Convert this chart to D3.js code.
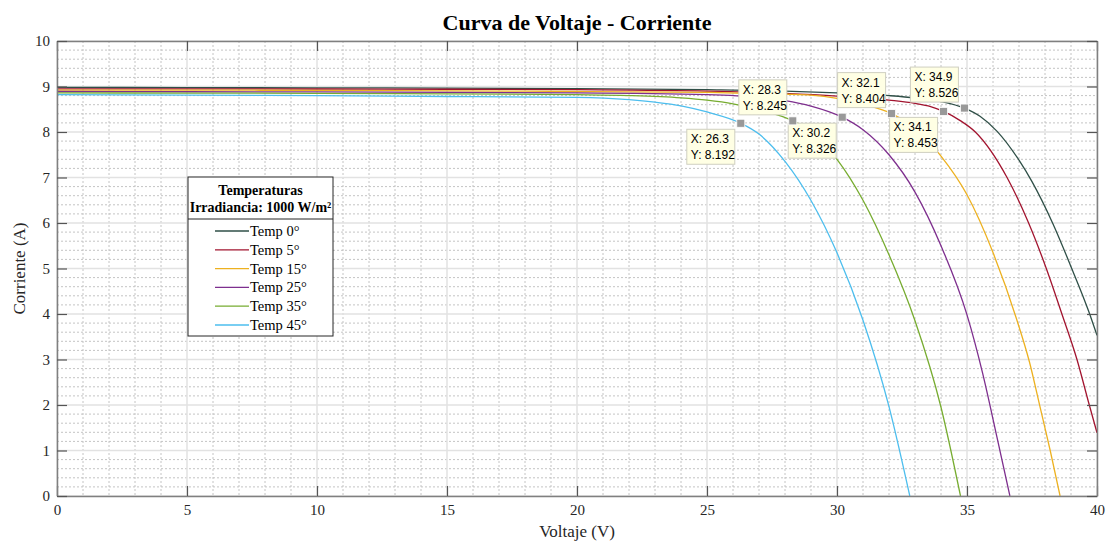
<!DOCTYPE html>
<html>
<head>
<meta charset="utf-8">
<script src="https://cdn.jsdelivr.net/npm/d3@7"></script>
<style>
  body { margin: 0; background: #fff; }
  svg { display: block; }
  .tick-label { font-family: "Liberation Serif", "Times New Roman", serif; font-size: 15px; fill: #262626; }
  .tip text { font-family: "Liberation Sans", Arial, sans-serif; font-size: 12px; fill: #000; }
</style>
</head>
<body>
<div id="chart"></div>
<script>
'use strict';

// series labels and colours (legend order)
const temps = ["Temp 0°", "Temp 5°", "Temp 15°", "Temp 25°", "Temp 35°", "Temp 45°"];
const colors = ["#2f4f47", "#a2142f", "#edb120", "#7e2f8e", "#77ac30", "#4dbeee"];

// I-V readings, voltage (V) / current (A)
const volts0 = [0, 5, 10, 15, 20, 25, 28, 30, 32, 33, 34, 34.9, 35.5, 36.15, 37, 37.5, 38.3, 39, 39.68, 40];
const amps0  = [8.98, 8.975, 8.97, 8.965, 8.955, 8.93, 8.90, 8.86, 8.80, 8.75, 8.67, 8.526, 8.346, 8.02, 7.38, 6.91, 5.99, 5.04, 4.06, 3.53];

const volts5 = [0, 5, 10, 15, 20, 25, 28, 30, 32, 33, 33.6, 34.1, 34.74, 35.32, 36.54, 37.37, 38.05, 38.65, 39.23, 39.68, 40];
const amps5  = [8.95, 8.95, 8.945, 8.94, 8.93, 8.90, 8.85, 8.79, 8.70, 8.63, 8.56, 8.453, 8.25, 8.0, 7.0, 6.0, 5.0, 4.0, 3.0, 2.05, 1.39];

const volts15 = [0, 5, 10, 15, 20, 25, 28, 29, 30, 31, 32.1, 33, 34, 35, 36, 36.9, 37.4, 37.8, 38.2, 38.58];
const amps15  = [8.92, 8.92, 8.915, 8.905, 8.89, 8.87, 8.83, 8.81, 8.74, 8.61, 8.404, 8.08, 7.47, 6.62, 5.35, 3.9, 2.95, 1.98, 1.0, 0];

const volts25 = [0, 5, 10, 15, 20, 25, 27, 28, 29, 30.2, 31, 32, 33, 34, 35, 35.6, 36.15, 36.65];
const amps25  = [8.89, 8.885, 8.88, 8.87, 8.86, 8.82, 8.76, 8.69, 8.57, 8.326, 8.05, 7.5, 6.68, 5.5, 3.98, 2.7, 1.3, 0];

const volts35 = [0, 5, 10, 15, 20, 22, 24, 25, 26, 27, 28.3, 29, 30, 31, 32, 33, 34, 34.75];
const amps35  = [8.86, 8.855, 8.85, 8.84, 8.82, 8.80, 8.75, 8.70, 8.62, 8.49, 8.245, 8.0, 7.4, 6.5, 5.3, 3.85, 1.95, 0];

const volts45 = [0, 5, 10, 15, 20, 22, 23, 24, 25, 26.3, 27, 28, 29, 30, 31, 32, 32.8];
const amps45  = [8.82, 8.81, 8.80, 8.78, 8.76, 8.71, 8.655, 8.575, 8.44, 8.192, 7.954, 7.354, 6.494, 5.344, 3.864, 1.964, 0];

// data tips (one per curve, same order as temps)
const tipX = [34.9, 34.1, 32.1, 30.2, 28.3, 26.3];
const tipY = [8.526, 8.453, 8.404, 8.326, 8.245, 8.192];

const xTicks = [0, 5, 10, 15, 20, 25, 30, 35, 40];
const yTicks = [0, 1, 2, 3, 4, 5, 6, 7, 8, 9, 10];

const voltSets = [volts0, volts5, volts15, volts25, volts35, volts45];
const ampSets = [amps0, amps5, amps15, amps25, amps35, amps45];
const series = temps.map(function(t, i) {
    return {
        name: t,
        color: colors[i],
        points: voltSets[i].map(function(v, j) { return {v: v, a: ampSets[i][j]}; })
    };
});

const W = 1107, H = 542;
const margin = {left: 57, right: 1097, top: 41, bottom: 496};

const x = d3.scaleLinear().domain([0, 40]).range([margin.left, margin.right]);
const y = d3.scaleLinear().domain([0, 10]).range([margin.bottom, margin.top]);

const svg = d3.select("#chart").append("svg")
    .attr("width", W)
    .attr("height", H);

// minor grid
const g = svg.append("g").attr("class", "grid");
g.selectAll(".xminor").data(d3.range(0, 41, 1).filter(function(d) { return d % 5 !== 0; }))
    .enter().append("line")
    .attr("x1", function(d) { return x(d); }).attr("x2", function(d) { return x(d); })
    .attr("y1", margin.top).attr("y2", margin.bottom)
    .attr("stroke", "#c4c4c4").attr("stroke-width", 1).attr("stroke-dasharray", "2,2");
g.selectAll(".yminor").data(d3.range(0, 50).map(function(d) { return d * 0.2; }).filter(function(d, i) { return i % 5 !== 0; }))
    .enter().append("line")
    .attr("x1", margin.left).attr("x2", margin.right)
    .attr("y1", function(d) { return y(d); }).attr("y2", function(d) { return y(d); })
    .attr("stroke", "#c4c4c4").attr("stroke-width", 1).attr("stroke-dasharray", "2,2");

// major grid
g.selectAll(".xmajor").data(xTicks).enter().append("line")
    .attr("x1", function(d) { return x(d); }).attr("x2", function(d) { return x(d); })
    .attr("y1", margin.top).attr("y2", margin.bottom)
    .attr("stroke", "#e2e2e2").attr("stroke-width", 1.5);
g.selectAll(".ymajor").data(yTicks).enter().append("line")
    .attr("x1", margin.left).attr("x2", margin.right)
    .attr("y1", function(d) { return y(d); }).attr("y2", function(d) { return y(d); })
    .attr("stroke", "#e2e2e2").attr("stroke-width", 1.5);

// curves
svg.append("clipPath").attr("id", "clip")
    .append("rect").attr("x", margin.left).attr("y", margin.top)
    .attr("width", margin.right - margin.left).attr("height", margin.bottom - margin.top);

const line = d3.line()
    .x(function(d) { return x(d.v); })
    .y(function(d) { return y(d.a); })
    .curve(d3.curveMonotoneX);

svg.append("g").attr("clip-path", "url(#clip)")
    .selectAll("path").data(series).enter().append("path")
    .attr("d", function(d) { return line(d.points); })
    .attr("fill", "none")
    .attr("stroke", function(d) { return d.color; })
    .attr("stroke-width", 1.3);

// axes (box with inward ticks)
const axisColor = "#808080";
const tickLen = 10;

const xAxis = svg.append("g").attr("transform", "translate(0," + margin.bottom + ")")
    .call(d3.axisBottom(x).tickValues(xTicks).tickSizeInner(-tickLen).tickSizeOuter(0).tickPadding(8));
const xAxisTop = svg.append("g").attr("transform", "translate(0," + margin.top + ")")
    .call(d3.axisTop(x).tickValues(xTicks).tickSizeInner(-tickLen).tickSizeOuter(0).tickFormat(""));
const yAxis = svg.append("g").attr("transform", "translate(" + margin.left + ",0)")
    .call(d3.axisLeft(y).tickValues(yTicks).tickSizeInner(-tickLen).tickSizeOuter(0).tickPadding(7));
const yAxisRight = svg.append("g").attr("transform", "translate(" + margin.right + ",0)")
    .call(d3.axisRight(y).tickValues(yTicks).tickSizeInner(-tickLen).tickSizeOuter(0).tickFormat(""));

[xAxis, xAxisTop, yAxis, yAxisRight].forEach(function(a) {
    a.attr("font-family", null).attr("font-size", null);
    a.select(".domain").attr("stroke", axisColor).attr("stroke-width", 1.5);
    a.selectAll(".tick line").attr("stroke", "#555").attr("stroke-width", 1.2);
    a.selectAll(".tick text").attr("class", "tick-label").attr("fill", null);
});

// title and axis labels
svg.append("text")
    .attr("x", (margin.left + margin.right) / 2).attr("y", 30)
    .attr("text-anchor", "middle")
    .style("font-family", "'Liberation Serif', 'Times New Roman', serif")
    .style("font-size", "22px").style("font-weight", "bold").style("fill", "#000")
    .text("Curva de Voltaje - Corriente");

svg.append("text")
    .attr("x", (margin.left + margin.right) / 2).attr("y", 537)
    .attr("text-anchor", "middle")
    .style("font-family", "'Liberation Serif', 'Times New Roman', serif")
    .style("font-size", "17px").style("fill", "#262626")
    .text("Voltaje (V)");

svg.append("text")
    .attr("transform", "translate(25," + ((margin.top + margin.bottom) / 2) + ") rotate(-90)")
    .attr("text-anchor", "middle")
    .style("font-family", "'Liberation Serif', 'Times New Roman', serif")
    .style("font-size", "17px").style("fill", "#262626")
    .text("Corriente (A)");

// data tips
const tipAbove = [true, false, true, false, true, false];
const tipW = 48, tipH = 35;
const tips = svg.append("g").selectAll("g").data(tipX).enter().append("g").attr("class", "tip");
tips.each(function(d, i) {
    const t = d3.select(this);
    const mx = x(tipX[i]), my = y(tipY[i]);
    const bx = mx - 6 - tipW;
    const by = tipAbove[i] ? my - 6 - tipH : my + 6;
    t.append("rect")
        .attr("x", bx).attr("y", by).attr("width", tipW).attr("height", tipH)
        .attr("fill", "#ffffe4").attr("stroke", "#cfcfc0").attr("stroke-width", 1);
    t.append("text").attr("x", bx + 4).attr("y", by + 14).text("X: " + tipX[i]);
    t.append("text").attr("x", bx + 4).attr("y", by + 30).text("Y: " + tipY[i]);
    t.append("rect")
        .attr("x", mx - 4).attr("y", my - 4).attr("width", 8).attr("height", 8)
        .attr("fill", "#999").attr("stroke", "#fff").attr("stroke-width", 0.8);
});

// legend
const lg = svg.append("g").attr("transform", "translate(188,177)");
const lgW = 145, lgH = 159;
lg.append("rect").attr("width", lgW).attr("height", lgH)
    .attr("fill", "#fff").attr("stroke", "#262626").attr("stroke-width", 1);
lg.append("line").attr("x1", 0).attr("x2", lgW).attr("y1", 42).attr("y2", 42)
    .attr("stroke", "#262626").attr("stroke-width", 1);
["Temperaturas", "Irradiancia: 1000 W/m²"].forEach(function(s, i) {
    lg.append("text")
        .attr("x", lgW / 2).attr("y", 18 + i * 17)
        .attr("text-anchor", "middle")
        .style("font-family", "'Liberation Serif', 'Times New Roman', serif")
        .style("font-size", "14px").style("font-weight", "bold").style("fill", "#000")
        .text(s);
});
const rows = lg.selectAll(".row").data(series).enter().append("g")
    .attr("transform", function(d, i) { return "translate(0," + (54 + i * 18.8) + ")"; });
rows.append("line").attr("x1", 27).attr("x2", 61).attr("y1", 0).attr("y2", 0)
    .attr("stroke", function(d) { return d.color; }).attr("stroke-width", 1.3);
rows.append("text").attr("x", 62).attr("y", 5)
    .style("font-family", "'Liberation Serif', 'Times New Roman', serif")
    .style("font-size", "14.5px").style("fill", "#000")
    .text(function(d) { return d.name; });
</script>
</body>
</html>
